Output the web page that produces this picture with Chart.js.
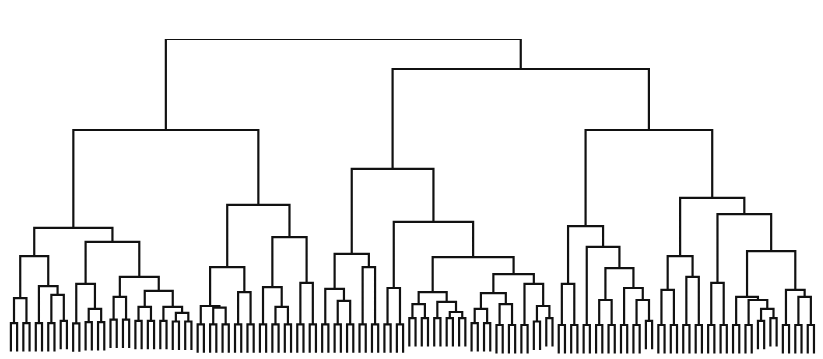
<!DOCTYPE html>
<html lang="en">
<head>
<meta charset="UTF-8" />
<title>Dendrogram</title>
<script src="https://cdn.jsdelivr.net/npm/chart.js"></script>
<style>
  html, body { margin: 0; padding: 0; background: #fff; }
  #chart { display: block; }
</style>
</head>
<body>
<canvas id="chart" width="823" height="359"></canvas>
<script>
// 130 leaves, joined two by two into 65 pairs (pair k = leaves 2k, 2k+1)
// merge height of each pair
const pairHeights = [
  10.1, 10.1, 10.1, 10.1, 10.8, 10.0, 10.4, 10.4, 11.2, 11.2,
  10.8, 10.8, 10.8, 10.6, 10.6, 9.7, 9.7, 9.7, 9.7, 9.7,
  9.7, 9.7, 9.7, 9.7, 9.7, 9.7, 9.7, 9.7, 9.7, 9.7,
  9.7, 9.7, 11.7, 11.7, 11.7, 11.7, 11.7, 10.1, 10.1, 9.5,
  9.5, 9.5, 10.6, 11.7, 9.5, 9.5, 9.5, 9.5, 9.5, 9.5,
  9.5, 10.8, 9.5, 9.5, 9.5, 9.5, 9.5, 9.5, 9.5, 9.5,
  10.8, 11.7, 9.5, 9.5, 9.5
];
// how far each leaf hangs below its pair
const leafHang = 9.0;

// upper merges: [height, left, right]; a plain number is a pair index
const branchA = [40.2, [31.3, [18.0, 0, 1], [21.8, 2, [19.0, 3, 4]]], [35.8, [22.5, 5, [14.6, 6, 7]], [24.7, [18.4, 8, 9], [20.3, [15.2, 10, 11], [15.2, 12, [13.3, 13, 14]]]]]];
const branchB = [47.5, [27.8, [15.5, 15, [15.0, 16, 17]], [19.9, 18, 19]], [37.3, [21.5, 20, [15.2, 21, 22]], [22.8, 23, 24]]];
const branchC = [58.9, [32.0, [20.9, 25, [17.1, 26, 27]], [27.8, 28, 29]], [42.1, [21.2, 30, 31], [31.0, [19.9, [16.1, 32, 33], [16.8, 34, [13.6, 35, 36]]], [25.6, [19.6, [14.6, 37, 38], [16.1, 39, 40]], [22.5, 41, [15.5, 42, 43]]]]]];
const branchD = [40.8, [22.5, 44, 45], [34.2, 46, [27.5, [17.4, 47, 48], [21.2, 49, [17.4, 50, 51]]]]];
const branchE = [49.7, [31.3, [20.6, 52, 53], [24.7, 54, 55]], [44.6, [22.8, 56, 57], [32.9, [18.4, 58, [17.4, 59, [14.6, 60, 61]]], [20.6, 62, [18.4, 63, 64]]]]];
// top joins
const tree = [100, [71.2, branchA, branchB], [90.5, branchC, [71.2, branchD, branchE]]];

// turn the tree into one path, broken by null points
const segs = [];
function walk(node) {
  if (typeof node === 'number') {
    const h = pairHeights[node], a = 2 * node, b = a + 1;
    segs.push({x: a, y: h - leafHang}, {x: a, y: h}, {x: b, y: h}, {x: b, y: h - leafHang}, {x: b, y: null});
    return {x: a + 0.5, y: h};
  }
  const [h, l, r] = node;
  const L = walk(l), R = walk(r);
  segs.push({x: L.x, y: L.y}, {x: L.x, y: h}, {x: R.x, y: h}, {x: R.x, y: R.y}, {x: R.x, y: null});
  return {x: (L.x + R.x) / 2, y: h};
}
walk(tree);

new Chart(document.getElementById('chart'), {
  type: 'scatter',
  data: {
    datasets: [{
      data: segs,
      showLine: true,
      spanGaps: false,
      borderColor: '#111111',
      borderWidth: 2.2,
      pointRadius: 0,
      borderJoinStyle: 'miter',
      borderCapStyle: 'butt',
      tension: 0
    }]
  },
  options: {
    responsive: false,
    animation: false,
    events: [],
    layout: { padding: { top: 39, bottom: 4, left: 0, right: 0 } },
    plugins: { legend: { display: false }, tooltip: { enabled: false } },
    scales: {
      x: { type: 'linear', display: false, min: -1.75, max: 130.45 },
      y: { type: 'linear', display: false, min: 0, max: 100 }
    }
  }
});
</script>
</body>
</html>
